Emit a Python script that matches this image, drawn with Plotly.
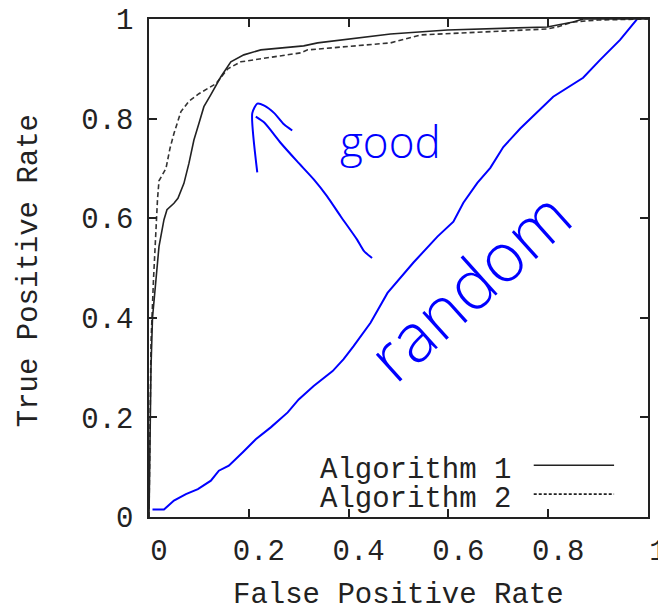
import plotly.graph_objects as go

# ---- data ----
series_names = ["Algorithm 1", "Algorithm 2"]

fpr_alg1 = [0, 0.001, 0.002, 0.004, 0.007, 0.011, 0.014, 0.02, 0.03, 0.036, 0.05, 0.058,
            0.07, 0.08, 0.09, 0.1, 0.11, 0.124, 0.144, 0.164, 0.19, 0.224, 0.27, 0.31,
            0.338, 0.4, 0.484, 0.598, 0.7, 0.798, 0.85, 0.87, 1.0]
tpr_alg1 = [0, 0.1, 0.2, 0.3, 0.4, 0.45, 0.477, 0.543, 0.597, 0.617, 0.63, 0.64,
            0.67, 0.71, 0.757, 0.79, 0.824, 0.848, 0.884, 0.914, 0.928, 0.938, 0.942, 0.946,
            0.952, 0.96, 0.97, 0.978, 0.981, 0.984, 0.994, 1.0, 1.0]

fpr_alg2 = [0, 0.001, 0.002, 0.004, 0.009, 0.012, 0.015, 0.017, 0.02, 0.034, 0.042, 0.05,
            0.064, 0.08, 0.1, 0.134, 0.158, 0.184, 0.25, 0.304, 0.318, 0.4, 0.484, 0.544,
            0.664, 0.798, 0.818, 0.85, 0.9, 1.0]
tpr_alg2 = [0, 0.1, 0.2, 0.35, 0.477, 0.543, 0.597, 0.637, 0.675, 0.70, 0.74, 0.77,
            0.814, 0.835, 0.85, 0.87, 0.9, 0.914, 0.924, 0.932, 0.938, 0.945, 0.952, 0.968,
            0.974, 0.98, 0.984, 0.994, 0.998, 1.0]

# hand-drawn "random" line
fpr_random = [0.007, 0.03, 0.05, 0.074, 0.098, 0.124, 0.14, 0.16, 0.188, 0.214, 0.244,
              0.278, 0.3, 0.33, 0.368, 0.39, 0.41, 0.444, 0.478, 0.53, 0.578, 0.61, 0.63,
              0.658, 0.684, 0.71, 0.744, 0.778, 0.81, 0.87, 0.904, 0.944, 0.98]
tpr_random = [0.015, 0.015, 0.033, 0.046, 0.056, 0.073, 0.093, 0.103, 0.13, 0.156, 0.18,
              0.21, 0.236, 0.263, 0.293, 0.317, 0.343, 0.39, 0.45, 0.511, 0.563, 0.593, 0.631,
              0.671, 0.701, 0.743, 0.78, 0.814, 0.844, 0.882, 0.918, 0.958, 1.002]

# hand-drawn "good" arrow (shaft, then head)
arrow_x = [0.447, 0.431, 0.417, 0.384, 0.357, 0.331, 0.297, 0.264, 0.231, 0.214, None,
           0.217, 0.207, 0.217, 0.231, 0.251, 0.271, 0.287]
arrow_y = [0.520, 0.534, 0.557, 0.604, 0.644, 0.677, 0.714, 0.751, 0.792, 0.804, None,
           0.692, 0.811, 0.830, 0.826, 0.811, 0.788, 0.776]

note_good = "good"
note_random = "random"
x_title = "False Positive Rate"
y_title = "True Positive Rate"

tick_vals = [0, 0.2, 0.4, 0.6, 0.8, 1]
tick_text = ["0", "0.2", "0.4", "0.6", "0.8", "1"]

# ---- styling ----
MONO = "Liberation Mono, Courier New, monospace"
HAND = "Open Sans, Liberation Sans, Arial"
INK = "#222222"
BLUE = "#0000ff"
FS = 29

fig = go.Figure()
fig.add_trace(go.Scatter(x=fpr_random, y=tpr_random, mode="lines",
                         line=dict(color=BLUE, width=2), showlegend=False, hoverinfo="skip"))
fig.add_trace(go.Scatter(x=arrow_x, y=arrow_y, mode="lines",
                         line=dict(color=BLUE, width=2, shape="spline", smoothing=0.6),
                         showlegend=False, hoverinfo="skip", connectgaps=False))
fig.add_trace(go.Scatter(x=fpr_alg2, y=tpr_alg2, mode="lines", name=series_names[1],
                         line=dict(color="#333333", width=1.6, dash="5px,3px"), showlegend=False))
fig.add_trace(go.Scatter(x=fpr_alg1, y=tpr_alg1, mode="lines", name=series_names[0],
                         line=dict(color="#222222", width=1.6), showlegend=False))

axis_common = dict(
    range=[0, 1], tickvals=tick_vals, ticktext=tick_text,
    ticks="inside", ticklen=8, tickwidth=1.5, tickcolor=INK,
    showline=True, linecolor=INK, linewidth=1.5, mirror="ticks",
    showgrid=False, zeroline=False, automargin=False, ticklabeloverflow="allow",
    tickfont=dict(family=MONO, size=FS, color=INK),
)

fig.update_layout(
    width=658, height=604,
    margin=dict(l=149, r=10, t=19, b=87),
    plot_bgcolor="white", paper_bgcolor="white",
    xaxis=dict(**axis_common, ticklabelshift=10, ticklabelstandoff=6),
    yaxis=dict(**axis_common, ticklabelstandoff=8),
    showlegend=False,
)

# axis titles
fig.add_annotation(x=0.5, y=-0.157, xref="paper", yref="paper", text=x_title, showarrow=False,
                   xanchor="center", yanchor="middle", font=dict(family=MONO, size=FS, color=INK))
fig.add_annotation(x=-0.239, y=0.495, xref="paper", yref="paper", text=y_title, showarrow=False,
                   textangle=-90, xanchor="center", yanchor="middle",
                   font=dict(family=MONO, size=FS, color=INK))

# handwritten notes
fig.add_annotation(x=0.484, y=0.755, xref="x", yref="y", text=note_good, showarrow=False,
                   font=dict(family=HAND, size=44, color=BLUE, weight=300))
fig.add_annotation(x=0.64, y=0.466, xref="x", yref="y", text=note_random, showarrow=False,
                   textangle=-42, font=dict(family=HAND, size=68, color=BLUE, weight=300))

# gnuplot-style legend (text then sample on the right)
legend_text_y = [0.094, 0.036]
legend_line_y = [0.104, 0.046]
legend_dash = ["solid", "3px,2px"]
for name, ty, ly, dsh in zip(series_names, legend_text_y, legend_line_y, legend_dash):
    fig.add_annotation(x=0.73, y=ty, xref="paper", yref="paper", text=name, showarrow=False,
                       xanchor="right", yanchor="middle",
                       font=dict(family=MONO, size=FS, color=INK))
    fig.add_shape(type="line", xref="paper", yref="paper", x0=0.771, x1=0.932, y0=ly, y1=ly,
                  line=dict(color=INK, width=1.6, dash=dsh))

fig.write_html("out.html", config={"displayModeBar": False},
               post_script="document.body.style.margin='0';")
